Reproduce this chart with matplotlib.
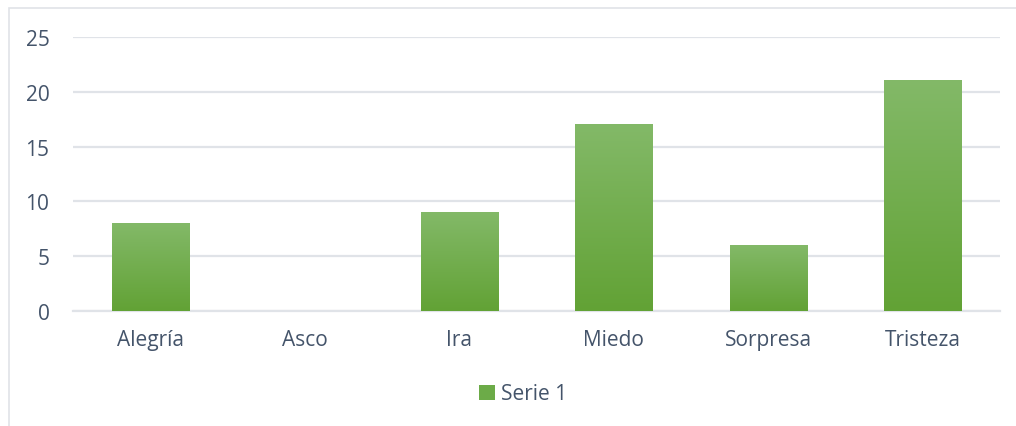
import matplotlib.pyplot as plt
import numpy as np
from matplotlib.patches import Rectangle, Patch
from matplotlib.colors import LinearSegmentedColormap

categories = ["Alegría", "Asco", "Ira", "Miedo", "Sorpresa", "Tristeza"]
values = [8, 0, 9, 17, 6, 21]
series_name = "Serie 1"
yticks = [0, 5, 10, 15, 20, 25]

text_color = "#44546A"
grid_color = "#E0E3E8"
top_green = "#83B968"
bottom_green = "#62A235"

plt.rcParams['font.family'] = ['Open Sans', 'DejaVu Sans']

fig = plt.figure(figsize=(10.16, 4.27), dpi=100)
fig.patches.append(Rectangle((9 / 1016, -0.1), 1.2, 1 - 9 / 427 + 0.1,
                             transform=fig.transFigure, fill=False,
                             edgecolor=grid_color, lw=1.2))

ax = fig.add_axes([73 / 1016, 1 - 312 / 427, 927 / 1016, 274 / 427])
x = np.arange(len(categories))
bars = ax.bar(x, values, width=0.5, color=bottom_green, zorder=2)

# vertical gradient on each bar
cmap = LinearSegmentedColormap.from_list("g", [bottom_green, top_green])
grad = np.linspace(0, 1, 256).reshape(-1, 1)
for b in bars:
    h = b.get_height()
    if h <= 0:
        continue
    x0 = b.get_x()
    ax.imshow(grad, cmap=cmap, origin="lower", aspect="auto", zorder=3,
              extent=(x0, x0 + b.get_width(), 0, h))

ax.set_xlim(-0.5, len(categories) - 0.5)
ax.set_ylim(0, 25)
ax.set_yticks(yticks)
ax.set_xticks(x)
ax.set_xticklabels(categories)
ax.yaxis.grid(True, color=grid_color, lw=1.6, zorder=0)
for s in ["top", "right", "left"]:
    ax.spines[s].set_visible(False)
ax.spines["bottom"].set_color(grid_color)
ax.spines["bottom"].set_linewidth(1.6)
ax.tick_params(axis="both", length=0, labelsize=15, colors=text_color)
ax.tick_params(axis="y", pad=17)
ax.tick_params(axis="x", pad=13)

handle = Patch(facecolor="#6CAB48", edgecolor="none")
fig.legend([handle], [series_name], loc="center", bbox_to_anchor=(523 / 1016, 1 - 395 / 427),
           frameon=False, fontsize=15, labelcolor=text_color,
           handlelength=0.75, handleheight=0.75, handletextpad=0.3)

fig.savefig("out.png", dpi=100)
